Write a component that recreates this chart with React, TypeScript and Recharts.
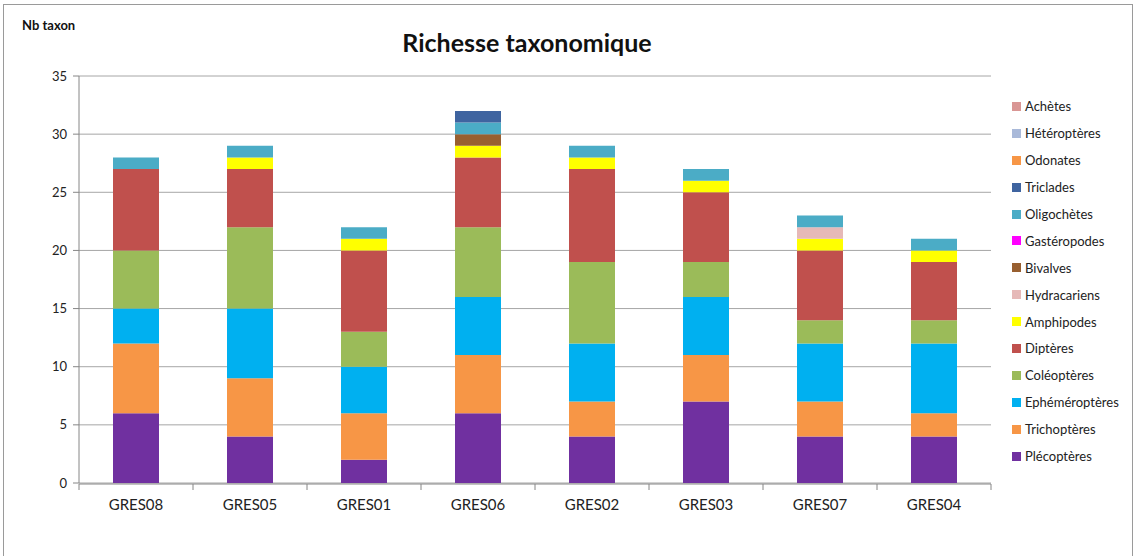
import React from 'react';
import { BarChart, Bar, XAxis, YAxis, CartesianGrid } from 'recharts';

const sites = ['GRES08', 'GRES05', 'GRES01', 'GRES06', 'GRES02', 'GRES03', 'GRES07', 'GRES04'];

// stacking order bottom -> top
const plecopteres = [6, 4, 2, 6, 4, 7, 4, 4];
const trichopteres = [6, 5, 4, 5, 3, 4, 3, 2];
const ephemeropteres = [3, 6, 4, 5, 5, 5, 5, 6];
const coleopteres = [5, 7, 3, 6, 7, 3, 2, 2];
const dipteres = [7, 5, 7, 6, 8, 6, 6, 5];
const amphipodes = [0, 1, 1, 1, 1, 1, 1, 1];
const hydracariens = [0, 0, 0, 0, 0, 0, 1, 0];
const bivalves = [0, 0, 0, 1, 0, 0, 0, 0];
const gasteropodes = [0, 0, 0, 0, 0, 0, 0, 0];
const oligochetes = [1, 1, 1, 1, 1, 1, 1, 1];
const triclades = [0, 0, 0, 1, 0, 0, 0, 0];
const odonates = [0, 0, 0, 0, 0, 0, 0, 0];
const heteropteres = [0, 0, 0, 0, 0, 0, 0, 0];
const achetes = [0, 0, 0, 0, 0, 0, 0, 0];

const yTicks = [0, 5, 10, 15, 20, 25, 30, 35];
const boundaryTicks = [0, 1, 2, 3, 4, 5, 6, 7, 8];

const series = [
  { key: 'Plécoptères', values: plecopteres, color: '#7030A0' },
  { key: 'Trichoptères', values: trichopteres, color: '#F79646' },
  { key: 'Ephéméroptères', values: ephemeropteres, color: '#00B0F0' },
  { key: 'Coléoptères', values: coleopteres, color: '#9BBB59' },
  { key: 'Diptères', values: dipteres, color: '#C0504D' },
  { key: 'Amphipodes', values: amphipodes, color: '#FFFF00' },
  { key: 'Hydracariens', values: hydracariens, color: '#E6B9B8' },
  { key: 'Bivalves', values: bivalves, color: '#985F30' },
  { key: 'Gastéropodes', values: gasteropodes, color: '#FF00FF' },
  { key: 'Oligochètes', values: oligochetes, color: '#4BACC6' },
  { key: 'Triclades', values: triclades, color: '#3F64A0' },
  { key: 'Odonates', values: odonates, color: '#F79646' },
  { key: 'Hétéroptères', values: heteropteres, color: '#A9B9D9' },
  { key: 'Achètes', values: achetes, color: '#D99694' },
];

const data = sites.map((s, i) => {
  const row: Record<string, any> = { site: s, idx: i + 0.5 };
  series.forEach((se) => {
    row[se.key] = se.values[i];
  });
  return row;
});

const FONT = 'Lato, "Open Sans", sans-serif';

const LegendBox = () => (
  <div style={{ position: 'absolute', left: 1012, top: 93, fontFamily: FONT, fontSize: 13, color: '#222' }}>
    {[...series].reverse().map((se) => (
      <div key={se.key} style={{ display: 'flex', alignItems: 'center', height: 26.9 }}>
        <span style={{ display: 'inline-block', width: 9, height: 9, background: se.color, marginRight: 4 }} />
        <span>{se.key}</span>
      </div>
    ))}
  </div>
);

const NoTick = () => <g />;

export default function App() {
  return (
    <div style={{ position: 'absolute', left: 0, top: 0, width: 1136, height: 556, background: '#fff', overflow: 'hidden' }}>
      <div style={{ position: 'absolute', left: 3, top: 4, width: 1130, height: 560, border: '1px solid #9a9a9a', boxSizing: 'border-box' }} />
      <div style={{ position: 'absolute', left: 22, top: 17, fontFamily: FONT, fontWeight: 700, fontSize: 13, color: '#111' }}>Nb taxon</div>
      <div style={{ position: 'absolute', left: 0, width: 1054, top: 27, textAlign: 'center', fontFamily: FONT, fontWeight: 700, fontSize: 25, color: '#111' }}>
        Richesse taxonomique
      </div>
      <div style={{ position: 'absolute', left: 0, top: 0 }}>
        <BarChart
          width={1136}
          height={556}
          data={data}
          margin={{ top: 76, right: 145, bottom: 43, left: 0 }}
          barSize={46}
        >
          <CartesianGrid horizontal vertical={false} stroke="#a6a6a6" strokeWidth={1} />
          <XAxis
            dataKey="site"
            height={1}
            axisLine={false}
            tickLine={false}
            tickMargin={10}
            tick={{ fontFamily: FONT, fontSize: 15, fill: '#222' }}
            interval={0}
          />
          <XAxis
            xAxisId="b"
            dataKey="idx"
            type="number"
            domain={[0, 8]}
            ticks={boundaryTicks}
            tick={NoTick}
            height={29}
            axisLine={{ stroke: '#868686' }}
            tickLine={{ stroke: '#868686' }}
            tickSize={6}
          />
          <YAxis
            width={79}
            domain={[0, 35]}
            ticks={yTicks}
            interval={0}
            axisLine={{ stroke: '#868686' }}
            tickLine={{ stroke: '#868686' }}
            tickSize={6}
            tickMargin={6}
            tick={{ fontFamily: FONT, fontSize: 13, fill: '#222' }}
          />
          {series.map((se) => (
            <Bar key={se.key} dataKey={se.key} stackId="a" fill={se.color} isAnimationActive={false} />
          ))}
        </BarChart>
      </div>
      <LegendBox />
    </div>
  );
}
